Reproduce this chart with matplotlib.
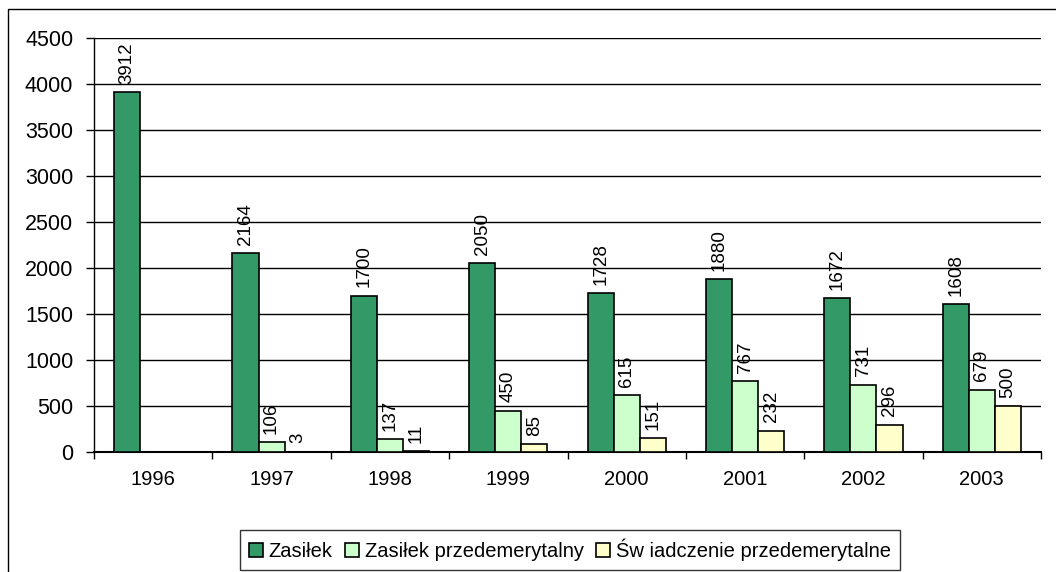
import numpy as np
import matplotlib.pyplot as plt
from matplotlib.patches import Rectangle

plt.rcParams['font.family'] = ['Liberation Sans', 'DejaVu Sans']

years = ["1996", "1997", "1998", "1999", "2000", "2001", "2002", "2003"]
zasilek = [3912, 2164, 1700, 2050, 1728, 1880, 1672, 1608]
zasilek_przed = [np.nan, 106, 137, 450, 615, 767, 731, 679]
swiadczenie = [np.nan, 3, 11, 85, 151, 232, 296, 500]

series_names = ["Zasiłek", "Zasiłek przedemerytalny", "Św iadczenie przedemerytalne"]
colors = ["#339966", "#CCFFCC", "#FFFFCC"]
FS = 14.5

fig = plt.figure(figsize=(10.56, 5.72), dpi=100)
ax = fig.add_axes([94 / 1056, 1 - 452 / 572, (1041 - 94) / 1056, (452 - 38) / 572])

# outer chart frame (right and bottom edges are cut off in the reference)
fig.patches.append(Rectangle((8 / 1056, -0.05), 1.1, 1 - 9 / 572 + 0.05,
                             transform=fig.transFigure, fill=False,
                             edgecolor="black", linewidth=1))

x = np.arange(len(years))
w = 0.22
for i, (vals, name, col) in enumerate(zip([zasilek, zasilek_przed, swiadczenie], series_names, colors)):
    pos = x + (i - 1) * w
    ax.bar(pos, vals, width=w, color=col, edgecolor="black", linewidth=1.2, label=name, zorder=3)
    for p, v in zip(pos, vals):
        if np.isnan(v):
            continue
        ax.annotate(f"{int(v)}", (p, v), xytext=(0, 6), textcoords="offset points",
                    rotation=90, ha="center", va="bottom", fontsize=13.5)

ax.set_xlim(-0.5, len(years) - 0.5)
ax.set_ylim(0, 4500)
ax.set_yticks(np.arange(0, 4501, 500))
ax.yaxis.grid(True, color="black", linewidth=1, zorder=0)
ax.set_axisbelow(True)

ax.set_xticks(x)
ax.set_xticklabels(years)
ax.set_xticks(np.arange(-0.5, len(years)), minor=True)
ax.tick_params(axis="x", which="major", length=0, pad=13, labelsize=FS)
ax.tick_params(axis="x", which="minor", length=5, width=1)
ax.tick_params(axis="y", length=6, width=1, labelsize=15.5, pad=9)

for s in ["top", "right"]:
    ax.spines[s].set_visible(False)
ax.spines["left"].set_linewidth(1)
ax.spines["bottom"].set_linewidth(1.5)

leg = fig.legend(loc="center", bbox_to_anchor=(570 / 1056, 1 - 550 / 572), ncol=3,
                 fontsize=FS, frameon=True, fancybox=False, edgecolor="black",
                 handlelength=0.7, handleheight=0.7, handletextpad=0.3,
                 columnspacing=0.6, borderpad=0.45, borderaxespad=0)
leg.get_frame().set_linewidth(1)

fig.savefig("out.png", dpi=100)
